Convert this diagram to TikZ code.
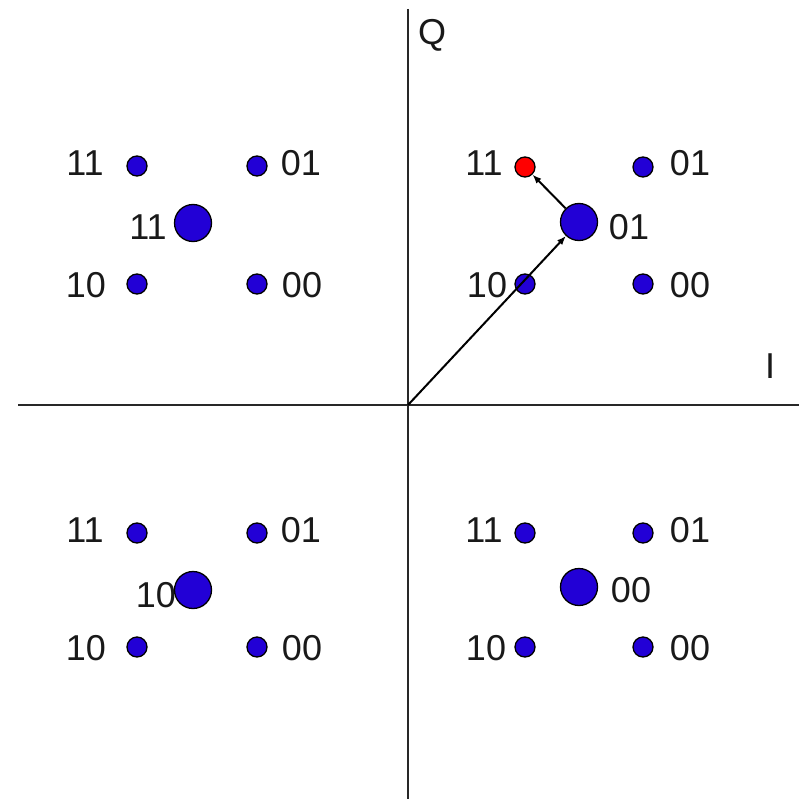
\documentclass[tikz,border=0pt]{standalone}
\usepackage{fontspec}
\setmainfont{Liberation Sans}
\usetikzlibrary{arrows.meta}
\definecolor{dotblue}{RGB}{34,0,214}
\definecolor{axisgray}{RGB}{40,40,40}
\begin{document}
\begin{tikzpicture}[x=1pt,y=-1pt,
  small/.style={circle,draw=black,line width=1.3pt,fill=dotblue,minimum size=20pt,inner sep=0pt},
  big/.style={circle,draw=black,line width=1.3pt,fill=dotblue,minimum size=37pt,inner sep=0pt},
  redpt/.style={small,fill=red},
  lab/.style={font=\fontsize{36}{36}\selectfont,inner sep=0pt,text=black!90},
  axis/.style={draw=axisgray,line width=2pt},
  vec/.style={draw=black,line width=2pt,-{Latex[length=9pt,width=7pt]}}]
\useasboundingbox (0,0) rectangle (799,799);
% axes
\coordinate (xl) at (18,405);
\coordinate (xr) at (799,405);
\coordinate (yt) at (408,9);
\coordinate (yb) at (408,799);
\coordinate (o) at (408,405);
\draw[axis] (xl) -- (xr);
\draw[axis] (yt) -- (yb);
\node[lab] (Q) at (432,35) {Q};
\node[lab] (I) at (770,366) {I};
% quadrant upper-left
\node[small] (a1) at (137,166) {};
\node[small] (a2) at (257,166) {};
\node[small] (a3) at (137,284) {};
\node[small] (a4) at (257,284) {};
\node[big] (A) at (193,223) {};
\node[lab] (la1) at (85,163) {11};
\node[lab] (la2) at (301,163) {01};
\node[lab] (la3) at (86,285) {10};
\node[lab] (la4) at (302,285) {00};
\node[lab] (lA) at (148,227) {11};
% quadrant upper-right
\node[redpt] (b1) at (525,167) {};
\node[small] (b2) at (643,167) {};
\node[small] (b3) at (525,284) {};
\node[small] (b4) at (643,284) {};
\node[big] (B) at (579,222) {};
\node[lab] (lb1) at (484,163) {11};
\node[lab] (lb2) at (690,163) {01};
\node[lab] (lb3) at (487,285) {10};
\node[lab] (lb4) at (690,285) {00};
\node[lab] (lB) at (629,227) {01};
% quadrant lower-left
\node[small] (c1) at (137,533) {};
\node[small] (c2) at (257,533) {};
\node[small] (c3) at (137,647) {};
\node[small] (c4) at (257,647) {};
\node[big] (C) at (193,590) {};
\node[lab] (lc1) at (85,530) {11};
\node[lab] (lc2) at (301,530) {01};
\node[lab] (lc3) at (86,648) {10};
\node[lab] (lc4) at (302,648) {00};
\node[lab] (lC) at (156,595) {10};
% quadrant lower-right
\node[small] (d1) at (525,533) {};
\node[small] (d2) at (643,533) {};
\node[small] (d3) at (525,647) {};
\node[small] (d4) at (643,647) {};
\node[big] (D) at (579,587) {};
\node[lab] (ld1) at (484,530) {11};
\node[lab] (ld2) at (690,530) {01};
\node[lab] (ld3) at (486,648) {10};
\node[lab] (ld4) at (690,648) {00};
\node[lab] (lD) at (631,590) {00};
% vectors
\draw[vec] (o) -- (B);
\draw[vec] (B) -- (b1);
\end{tikzpicture}
\end{document}
